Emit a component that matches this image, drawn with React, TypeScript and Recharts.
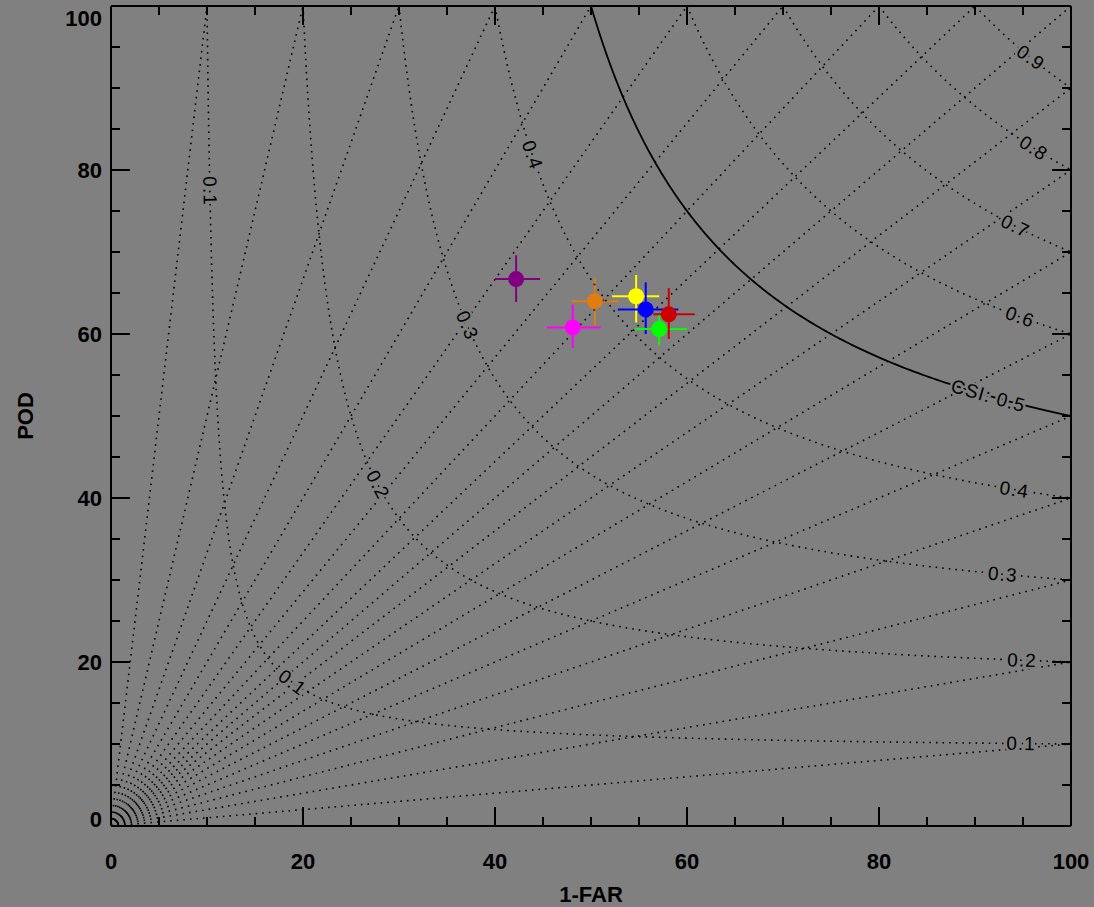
import React from "react";
import { ScatterChart, Scatter, XAxis, YAxis, ErrorBar } from "recharts";

// axis ticks (every 5, labels every 20)
const AXIS_TICKS = [0, 5, 10, 15, 20, 25, 30, 35, 40, 45, 50, 55, 60, 65, 70, 75, 80, 85, 90, 95, 100];

// background contours
const CSI_LEVELS = [0.1, 0.2, 0.3, 0.4, 0.5, 0.6, 0.7, 0.8, 0.9];
const BIAS_LEVELS = [0.1, 0.2, 0.3, 0.4, 0.5, 0.6, 0.7, 0.8, 0.9, 1, 10 / 9, 10 / 8, 10 / 7, 10 / 6, 2, 2.5, 10 / 3, 5, 10];

// contour labels: level, 1-FAR position, rotation
const LABEL_LEVEL = [0.9, 0.8, 0.7, 0.6, 0.5, 0.4, 0.3, 0.2, 0.1, 0.1, 0.4, 0.3, 0.2, 0.1];
const LABEL_SR = [95.8, 96.1, 94.2, 94.7, 91.4, 94.1, 92.9, 94.9, 94.8, 10.3, 43.9, 37.1, 27.8, 18.9];
const LABEL_ANGLE = [35, 33, 26, 20, 16, 9, 5, 2, 1, 89, 71, 67, 63, 37];
const LABEL_TEXT = ["0.9", "0.8", "0.7", "0.6", "CSI: 0.5", "0.4", "0.3", "0.2", "0.1", "0.1", "0.4", "0.3", "0.2", "0.1"];

// verification points
const POINT_COLORS = ["#800080", "#ff00ff", "#e07c10", "#ffff00", "#0000ff", "#00ff00", "#cc0000"];
const POINT_SR = [42.2, 48.1, 50.4, 54.7, 55.7, 57.1, 58.1];
const POINT_POD = [66.7, 60.8, 64.0, 64.6, 63.0, 60.6, 62.4];
const POINT_SR_ERR = [[2.2, 2.5], [2.7, 2.9], [2.4, 2.5], [2.5, 2.4], [2.9, 3.4], [2.5, 2.9], [1.6, 2.7]];
const POINT_POD_ERR = [[2.8, 2.9], [2.5, 2.8], [3.0, 2.8], [3.2, 2.6], [3.0, 3.3], [1.9, 1.8], [3.0, 3.2]];

const BG = "#808080";
const DOTS = "1.6 5";
const tickFont = { fontFamily: "'Liberation Sans', Arial, sans-serif", fontWeight: 700, fontSize: 22, fill: "#000" };

function csiCurve(c: number) {
  const pts: { sr: number; pod: number }[] = [];
  const a0 = Math.atan2(1, c);
  const a1 = Math.atan2(c, 1);
  const n = 180;
  for (let i = 0; i <= n; i++) {
    const b = Math.tan(a0 + ((a1 - a0) * i) / n);
    const sr = (1 + 1 / b) / (1 / c + 1);
    pts.push({ sr: sr * 100, pod: b * sr * 100 });
  }
  return pts;
}

function biasLine(b: number) {
  return [
    { sr: 0, pod: 0 },
    b <= 1 ? { sr: 100, pod: 100 * b } : { sr: 100 / b, pod: 100 }
  ];
}

const labelData = LABEL_LEVEL.map((c, i) => ({
  sr: LABEL_SR[i],
  pod: 100 / (1 / c + 1 - 100 / LABEL_SR[i]),
  angle: LABEL_ANGLE[i],
  text: LABEL_TEXT[i]
}));

const Empty = () => <g />;

function ContourLabel(props: any) {
  const { cx, cy, payload } = props;
  return (
    <text
      x={cx}
      y={cy}
      transform={`rotate(${payload.angle} ${cx} ${cy})`}
      textAnchor="middle"
      dominantBaseline="central"
      stroke={BG}
      strokeWidth={5}
      paintOrder="stroke"
      style={{ fontFamily: "'Liberation Sans', Arial, sans-serif", fontSize: 19, fill: "#000", letterSpacing: 1 }}
    >
      {payload.text}
    </text>
  );
}

function BottomTick({ x, y, payload }: any) {
  const v = payload.value;
  const major = v % 20 === 0;
  return (
    <g>
      <line x1={x} y1={y} x2={x} y2={y - (major ? 19 : 9)} stroke="#000" strokeWidth={2} />
      {major && (
        <text x={x} y={y + 43} textAnchor="middle" style={tickFont}>
          {v}
        </text>
      )}
    </g>
  );
}

function TopTick({ x, y, payload }: any) {
  const major = payload.value % 20 === 0;
  return <line x1={x} y1={y} x2={x} y2={y + (major ? 19 : 9)} stroke="#000" strokeWidth={2} />;
}

function LeftTick({ x, y, payload }: any) {
  const v = payload.value;
  const major = v % 20 === 0;
  const shift = v === 100 ? 12 : v === 0 ? -7 : 0;
  return (
    <g>
      <line x1={x} y1={y} x2={x + (major ? 19 : 9)} y2={y} stroke="#000" strokeWidth={2} />
      {major && (
        <text x={x - 9} y={y + 8 + shift} textAnchor="end" style={tickFont}>
          {v}
        </text>
      )}
    </g>
  );
}

function RightTick({ x, y, payload }: any) {
  const major = payload.value % 20 === 0;
  return <line x1={x} y1={y} x2={x - (major ? 19 : 9)} y2={y} stroke="#000" strokeWidth={2} />;
}

function XTitle({ viewBox }: any) {
  return (
    <text x={viewBox.x + viewBox.width / 2} y={viewBox.y + 76} textAnchor="middle" style={tickFont}>
      1-FAR
    </text>
  );
}

function YTitle({ viewBox }: any) {
  const x = viewBox.x + 12;
  const y = viewBox.y + viewBox.height / 2;
  return (
    <text x={x} y={y} transform={`rotate(-90 ${x} ${y})`} textAnchor="middle" style={tickFont}>
      POD
    </text>
  );
}

export default function App() {
  return (
    <div style={{ position: "absolute", left: 0, top: 0, width: 1094, height: 907, background: BG }}>
      <ScatterChart width={1094} height={907} margin={{ top: 5, right: 22, bottom: 11, left: 21 }}>
        <XAxis
          type="number"
          dataKey="sr"
          domain={[0, 100]}
          allowDataOverflow
          ticks={AXIS_TICKS}
          interval={0}
          tickSize={0}
          tickMargin={0}
          tickLine={false}
          tick={<BottomTick />}
          axisLine={{ stroke: "#000", strokeWidth: 2 }}
          height={70}
          label={{ content: <XTitle /> }}
        />
        <YAxis
          type="number"
          dataKey="pod"
          domain={[0, 100]}
          allowDataOverflow
          ticks={AXIS_TICKS}
          interval={0}
          tickSize={0}
          tickMargin={0}
          tickLine={false}
          tick={<LeftTick />}
          axisLine={{ stroke: "#000", strokeWidth: 2 }}
          width={90}
          label={{ content: <YTitle /> }}
        />
        <XAxis
          xAxisId="top"
          orientation="top"
          type="number"
          dataKey="sr"
          domain={[0, 100]}
          allowDataOverflow
          ticks={AXIS_TICKS}
          interval={0}
          tickSize={0}
          tickMargin={0}
          tickLine={false}
          tick={<TopTick />}
          axisLine={{ stroke: "#000", strokeWidth: 2 }}
          height={1}
        />
        <YAxis
          yAxisId="right"
          orientation="right"
          type="number"
          dataKey="pod"
          domain={[0, 100]}
          allowDataOverflow
          ticks={AXIS_TICKS}
          interval={0}
          tickSize={0}
          tickMargin={0}
          tickLine={false}
          tick={<RightTick />}
          axisLine={{ stroke: "#000", strokeWidth: 2 }}
          width={1}
        />

        {BIAS_LEVELS.map((b, i) => (
          <Scatter
            key={`bias-${i}`}
            data={biasLine(b)}
            line={{ stroke: "#000", strokeWidth: 1.6, strokeDasharray: DOTS }}
            lineType="joint"
            shape={<Empty />}
            isAnimationActive={false}
          />
        ))}
        {CSI_LEVELS.map((c) => (
          <Scatter
            key={`csi-${c}`}
            data={csiCurve(c)}
            line={
              c === 0.5
                ? { stroke: "#000", strokeWidth: 1.8 }
                : { stroke: "#000", strokeWidth: 1.6, strokeDasharray: DOTS }
            }
            lineType="joint"
            shape={<Empty />}
            isAnimationActive={false}
          />
        ))}

        <Scatter
          xAxisId="top"
          yAxisId="right"
          data={labelData}
          shape={<ContourLabel />}
          isAnimationActive={false}
        />

        {POINT_COLORS.map((col, i) => (
          <Scatter
            key={`pt-${i}`}
            data={[{ sr: POINT_SR[i], pod: POINT_POD[i], srErr: POINT_SR_ERR[i], podErr: POINT_POD_ERR[i] }]}
            fill={col}
            shape={(p: any) => <circle cx={p.cx} cy={p.cy} r={8} fill={col} />}
            isAnimationActive={false}
          >
            <ErrorBar dataKey="srErr" direction="x" width={0} stroke={col} strokeWidth={2} />
            <ErrorBar dataKey="podErr" direction="y" width={0} stroke={col} strokeWidth={2} />
          </Scatter>
        ))}
      </ScatterChart>
    </div>
  );
}
